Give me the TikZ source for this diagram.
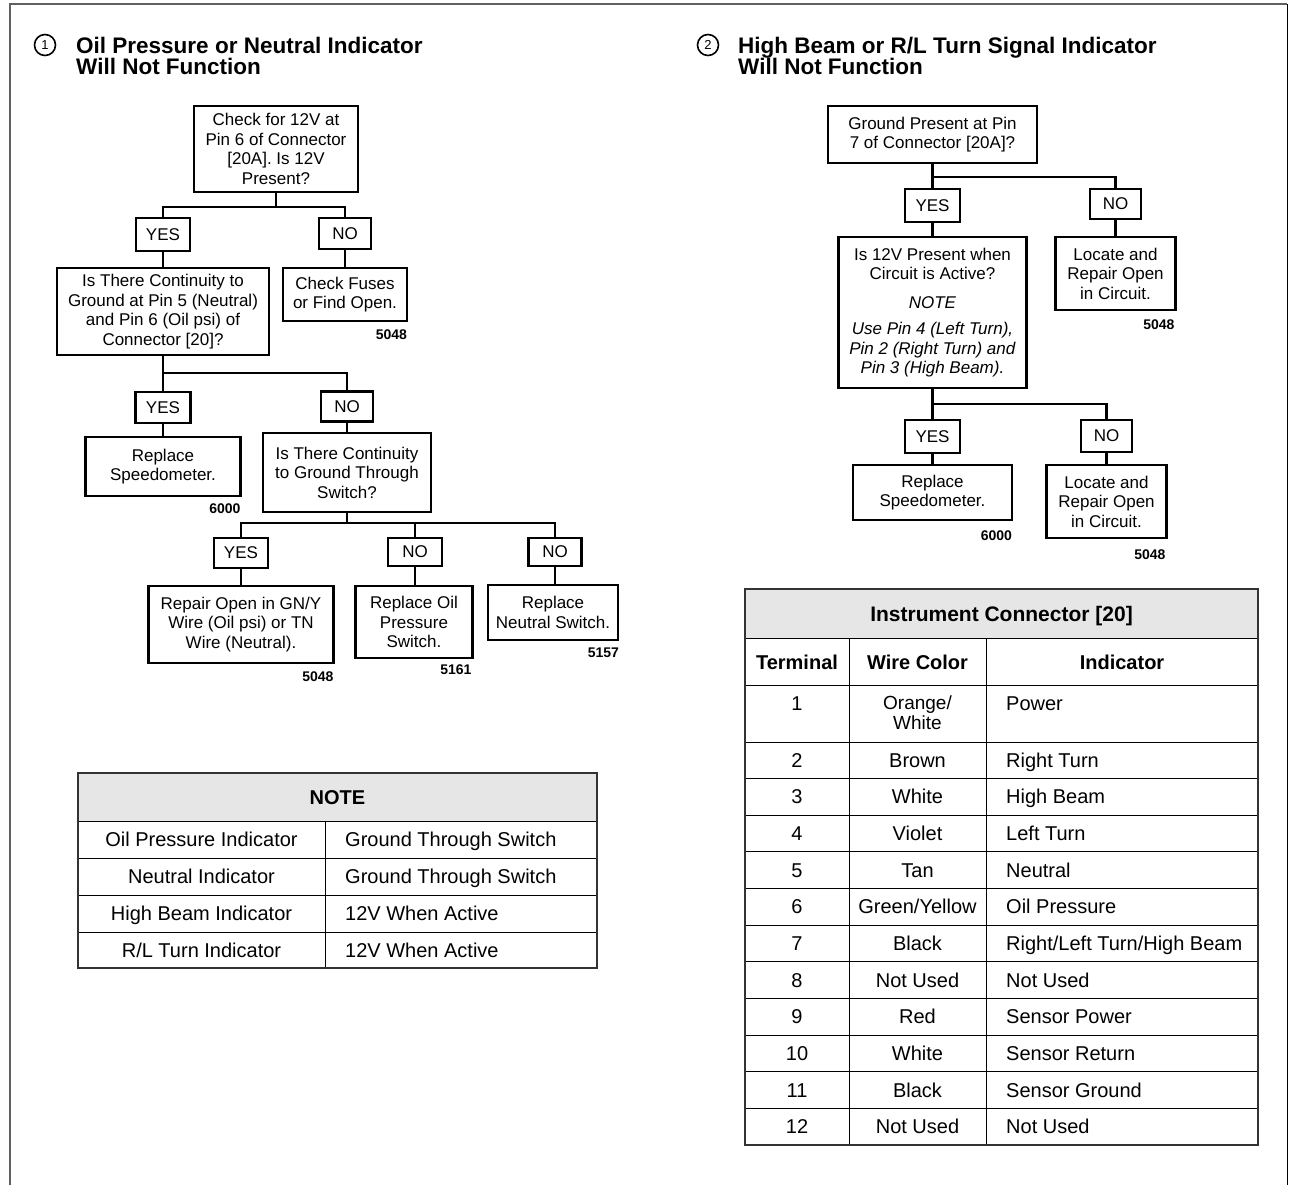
\documentclass[tikz,border=0pt]{standalone}
\usepackage{fontspec}
\setmainfont{Liberation Sans}
\definecolor{hdr}{HTML}{E6E6E6}
\definecolor{framegray}{HTML}{606060}
\newcommand\fcfont{\fontsize{17}{19.5}\selectfont}
\newcommand\tabfont{\fontsize{20}{17}\selectfont}
\newcommand\codefont{\fontsize{14}{14}\selectfont\bfseries}
\newcommand\titfont{\fontsize{22.5}{21}\selectfont\bfseries}
\tikzset{
  fbox/.style={draw, line width=2.3pt, inner sep=0pt, align=center, font=\fcfont},
  conn/.style={line width=2.2pt},
  code/.style={font=\codefont, inner sep=0pt, anchor=north east},
  tline/.style={line width=1pt},
  cell/.style={font=\tabfont, inner sep=0pt, anchor=base},
  cellw/.style={font=\tabfont, inner sep=0pt, anchor=base west},
  hcell/.style={font=\tabfont\bfseries, inner sep=0pt, anchor=base},
  numc/.style={circle, draw, line width=1.6pt, minimum size=21pt, inner sep=0pt, font=\fontsize{13}{13}\selectfont},
  ttl/.style={anchor=base west, font=\titfont, inner sep=0pt}
}
\begin{document}
\begin{tikzpicture}[x=1pt,y=-1pt]
\useasboundingbox (0,0) rectangle (1289,1184);
% outer frame
\draw[line width=2pt, framegray] (10,1190) -- (10,4) -- (1287,4);
\draw[line width=1pt] (1287,4) -- (1287,1190);

% titles
\node[numc] (c1) at (45,45) {1};
\node[ttl] (t1a) at (76,53) {Oil Pressure or Neutral Indicator};
\node[ttl] (t1b) at (76,74) {Will Not Function};
\node[numc] (c2) at (708,45) {2};
\node[ttl] (t2a) at (738,53) {High Beam or R/L Turn Signal Indicator};
\node[ttl] (t2b) at (738,74) {Will Not Function};

% ---------- left flowchart ----------
\node[fbox, minimum width=164pt, minimum height=86pt] (A) at (276,149) {Check for 12V at\\Pin 6 of Connector\\{[20A]}. Is 12V\\Present?};
\node[fbox, minimum width=54pt, minimum height=33pt] (yes1) at (163,234.5) {YES};
\node[fbox, minimum width=52pt, minimum height=31pt] (no1) at (345,233.5) {NO};
\node[fbox, minimum width=212pt, minimum height=87pt] (B) at (163,311.5) {Is There Continuity to\\Ground at Pin 5 (Neutral)\\and Pin 6 (Oil psi) of\\Connector [20]?};
\node[fbox, minimum width=124pt, minimum height=53pt] (fuses) at (345,294.5) {Check Fuses\\or Find Open.};
\node[code] (k1) at ([xshift=-1pt,yshift=-7pt]fuses.south east) {5048};

\node[fbox, minimum width=55pt, minimum height=31pt] (yes2) at (163,407.5) {YES};
\node[fbox, minimum width=52pt, minimum height=30pt] (no2) at (347,406.5) {NO};
\node[fbox, minimum width=155pt, minimum height=59pt] (sp1) at (163,466.5) {Replace\\Speedometer.};
\node[code] (k2) at ([xshift=-1pt,yshift=-6pt]sp1.south east) {6000};
\node[fbox, minimum width=168pt, minimum height=79pt] (C) at (347,472.5) {Is There Continuity\\to Ground Through\\Switch?};

\node[fbox, minimum width=54pt, minimum height=30pt] (yes3) at (241,553) {YES};
\node[fbox, minimum width=54pt, minimum height=28pt] (no3a) at (415,552) {NO};
\node[fbox, minimum width=53pt, minimum height=28pt] (no3b) at (555,552) {NO};
\node[fbox, minimum width=185pt, minimum height=77pt] (rep) at (241,624.5) {Repair Open in GN/Y\\Wire (Oil psi) or TN\\Wire (Neutral).};
\node[code] (k3) at ([xshift=-1pt,yshift=-7pt]rep.south east) {5048};
\node[fbox, minimum width=117pt, minimum height=72pt] (oilsw) at (414,622) {Replace Oil\\Pressure\\Switch.};
\node[code] (k4) at ([xshift=-2pt,yshift=-5pt]oilsw.south east) {5161};
\node[fbox, minimum width=130pt, minimum height=55pt] (neut) at (553,612.5) {Replace\\Neutral Switch.};
\node[code] (k5) at ([xshift=0pt,yshift=-7pt]neut.south east) {5157};

\coordinate (jA) at (276,207);
\coordinate (jB) at (163,373);
\coordinate (jC) at (347,523);
\draw[conn] (A.south) -- (jA);
\draw[conn] (yes1.north) |- (jA) -| (no1.north);
\draw[conn] (yes1.south) -- (B.north);
\draw[conn] (no1.south) -- (fuses.north);
\draw[conn] (B.south) -- (jB) -| (no2.north);
\draw[conn] (jB) -- (yes2.north);
\draw[conn] (yes2.south) -- (sp1.north);
\draw[conn] (no2.south) -- (C.north);
\draw[conn] (C.south) -- (jC);
\draw[conn] (yes3.north) |- (jC) -| (no3b.north);
\draw[conn] (no3a.north) -- (no3a.north |- jC);
\draw[conn] (yes3.south) -- (yes3.south |- rep.north);
\draw[conn] (no3a.south) -- (no3a.south |- oilsw.north);
\draw[conn] (no3b.south) -- (no3b.south |- neut.north);

% ---------- right flowchart ----------
\node[fbox, minimum width=209pt, minimum height=57pt] (D) at (932.5,134.5) {Ground Present at Pin\\7 of Connector [20A]?};
\node[fbox, minimum width=55pt, minimum height=33pt] (yes4) at (932.5,205.5) {YES};
\node[fbox, minimum width=51pt, minimum height=30pt] (no4) at (1115.5,204) {NO};
\node[fbox, minimum width=188pt, minimum height=151pt] (E) at (932.5,312.5) {Is 12V Present when\\Circuit is Active?\\[9pt]\textit{NOTE}\\[7pt]\textit{Use Pin 4 (Left Turn),}\\\textit{Pin 2 (Right Turn) and}\\\textit{Pin 3 (High Beam).}};
\node[fbox, minimum width=120pt, minimum height=73pt] (loc1) at (1115.5,273.5) {Locate and\\Repair Open\\in Circuit.};
\node[code] (k6) at ([xshift=-2pt,yshift=-8pt]loc1.south east) {5048};
\node[fbox, minimum width=55pt, minimum height=33pt] (yes5) at (932.5,436.5) {YES};
\node[fbox, minimum width=51pt, minimum height=32pt] (no5) at (1106.5,436) {NO};
\node[fbox, minimum width=159pt, minimum height=55pt] (sp2) at (932.5,492.5) {Replace\\Speedometer.};
\node[code] (k7) at ([xshift=-1pt,yshift=-9pt]sp2.south east) {6000};
\node[fbox, minimum width=120pt, minimum height=73pt] (loc2) at (1106.5,501.5) {Locate and\\Repair Open\\in Circuit.};
\node[code] (k8) at ([xshift=-2pt,yshift=-10pt]loc2.south east) {5048};

\coordinate (jD) at (932.5,177);
\coordinate (jE) at (932.5,404);
\draw[conn] (D.south) -- (yes4.north);
\draw[conn] (jD) -| (no4.north);
\draw[conn] (yes4.south) -- (E.north);
\draw[conn] (no4.south) -- (loc1.north);
\draw[conn] (E.south) -- (yes5.north);
\draw[conn] (jE) -| (no5.north);
\draw[conn] (yes5.south) -- (sp2.north);
\draw[conn] (no5.south) -- (loc2.north);

% ---------- NOTE table ----------
\fill[hdr] (78,773) rectangle (597,821);
\draw[tline] (78,821) -- (597,821);
\foreach \yy in {858,895,932} \draw[tline] (78,\yy) -- (597,\yy);
\draw[tline] (325,821) -- (325,968);
\draw[line width=1.3pt, black!80] (78,773) rectangle (597,968);
\node[hcell] (nh) at (337.5,804) {NOTE};
\node[cell] (n1a) at (201.5,846.5) {Oil Pressure Indicator};
\node[cellw] (n1b) at (345,846.5) {Ground Through Switch};
\node[cell] (n2a) at (201.5,883.5) {Neutral Indicator};
\node[cellw] (n2b) at (345,883.5) {Ground Through Switch};
\node[cell] (n3a) at (201.5,920.5) {High Beam Indicator};
\node[cellw] (n3b) at (345,920.5) {12V When Active};
\node[cell] (n4a) at (201.5,957) {R/L Turn Indicator};
\node[cellw] (n4b) at (345,957) {12V When Active};

% ---------- Instrument table ----------
\fill[hdr] (745,589) rectangle (1258,638);
\draw[tline] (745,638) -- (1258,638);
\draw[tline] (745,685) -- (1258,685);
\draw[tline] (745,742) -- (1258,742);
\foreach \r in {1,...,10} \draw[tline] (745,742+36.636*\r) -- (1258,742+36.636*\r);
\draw[tline] (849,638) -- (849,1145);
\draw[tline] (986,638) -- (986,1145);
\draw[line width=1.3pt, black!80] (745,589) rectangle (1258,1145);
\node[hcell, font=\fontsize{21}{21}\selectfont\bfseries] (ih) at (1001.5,621) {Instrument Connector [20]};
\node[hcell] (ch1) at (797,669) {Terminal};
\node[hcell] (ch2) at (917.5,669) {Wire Color};
\node[hcell] (ch3) at (1122,669) {Indicator};
\node[cell] (r1a) at (797,710) {1};
\node[cell, font=\fontsize{19}{17}\selectfont] (r1b) at (917.5,709) {Orange/};
\node[cell, font=\fontsize{19}{17}\selectfont] (r1c) at (917.5,729) {White};
\node[cellw] (r1d) at (1006,710) {Power};
\foreach \t/\w/\ind [count=\k] in {2/Brown/Right Turn, 3/White/High Beam, 4/Violet/Left Turn, 5/Tan/Neutral, 6/{Green/Yellow}/Oil Pressure, 7/Black/{Right/Left Turn/High Beam}, 8/Not Used/Not Used, 9/Red/Sensor Power, 10/White/Sensor Return, 11/Black/Sensor Ground, 12/Not Used/Not Used}{
  \pgfmathsetmacro\yb{742+36.636*(\k-1)+18.3+7}
  \node[cell] (ra\k) at (797,\yb) {\t};
  \node[cell] (rb\k) at (917.5,\yb) {\w};
  \node[cellw] (rc\k) at (1006,\yb) {\ind};
}
\end{tikzpicture}
\end{document}
